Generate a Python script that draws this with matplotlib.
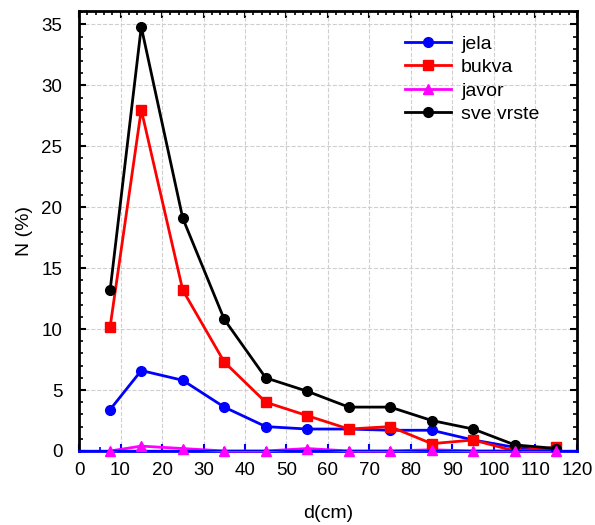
import numpy as np
import matplotlib
matplotlib.use("Agg")
import matplotlib.pyplot as plt
from matplotlib.lines import Line2D
from matplotlib.ticker import MultipleLocator

plt.rcParams["font.family"] = ["Liberation Sans", "DejaVu Sans"]

d = [7.5, 15, 25, 35, 45, 55, 65, 75, 85, 95, 105, 115]
jela = [3.4, 6.6, 5.8, 3.6, 2.0, 1.8, 1.8, 1.7, 1.7, 0.9, 0.3, 0.0]
bukva = [10.2, 28.0, 13.2, 7.3, 4.0, 2.9, 1.8, 2.0, 0.6, 0.9, 0.0, 0.3]
javor = [0.0, 0.4, 0.2, 0.0, 0.0, 0.2, 0.0, 0.0, 0.1, 0.0, 0.0, 0.0]
sve = [13.2, 34.8, 19.1, 10.8, 6.0, 4.9, 3.6, 3.6, 2.5, 1.8, 0.5, 0.2]

fig = plt.figure(figsize=(5.95, 5.25), dpi=100)
ax = fig.add_axes([0.1328, 0.141, 0.8369, 0.838])

# twin only carries the black ticks along the top edge
top = ax.twiny()
top.set_xlim(0, 120)
top.xaxis.set_major_locator(MultipleLocator(10))
top.xaxis.set_minor_locator(MultipleLocator(2))
top.tick_params(axis="x", which="both", direction="in", labeltop=False)
top.tick_params(axis="x", which="major", length=5, width=1.5)
top.tick_params(axis="x", which="minor", length=3, width=1.2)
for s in top.spines.values():
    s.set_visible(False)
top.set_zorder(0)
ax.set_zorder(1)
ax.patch.set_visible(False)

ax.grid(True, color="#cfcfcf", linestyle="--", linewidth=0.8)
ax.set_axisbelow(True)

style = dict(ms=7, lw=2)
ax.plot(d, javor, color="magenta", lw=2, zorder=3, clip_on=False)
ax.plot(d, jela, color="blue", marker="o", zorder=4, **style)
ax.plot(d, bukva, color="red", marker="s", zorder=4, **style)
ax.plot(d, sve, color="black", marker="o", zorder=4, **style)
ax.axhline(0, color="blue", lw=2.4, zorder=5)
ax.plot(d, javor, color="magenta", marker="^", ms=7, ls="none",
        zorder=6, clip_on=False)

ax.set_xlim(0, 120)
ax.set_ylim(0, 36.1)
ax.xaxis.set_major_locator(MultipleLocator(10))
ax.xaxis.set_minor_locator(MultipleLocator(5))
ax.yaxis.set_major_locator(MultipleLocator(5))
ax.yaxis.set_minor_locator(MultipleLocator(1))

ax.tick_params(axis="both", which="both", direction="in", labelsize=13.5)
ax.tick_params(axis="both", which="major", length=5, width=1.5, pad=8)
ax.tick_params(axis="y", which="major", pad=12)
ax.tick_params(axis="both", which="minor", length=3, width=1.2)
ax.tick_params(axis="y", which="both", right=True)
ax.tick_params(axis="x", which="both", colors="blue", labelcolor="black")

for s in ax.spines.values():
    s.set_linewidth(2)
ax.spines["bottom"].set_color("blue")

ax.set_xlabel("d(cm)", fontsize=14, labelpad=19)
ax.set_ylabel("N (%)", fontsize=14, labelpad=6)

handles = [Line2D([], [], color="blue", marker="o", **style),
           Line2D([], [], color="red", marker="s", **style),
           Line2D([], [], color="magenta", marker="^", **style),
           Line2D([], [], color="black", marker="o", **style)]
ax.legend(handles, ["jela", "bukva", "javor", "sve vrste"],
          loc="upper right", bbox_to_anchor=(0.96, 0.985), frameon=False,
          fontsize=14, handlelength=2.4, handletextpad=0.5, labelspacing=0.3)

fig.savefig("out.png", dpi=100, facecolor="white")
